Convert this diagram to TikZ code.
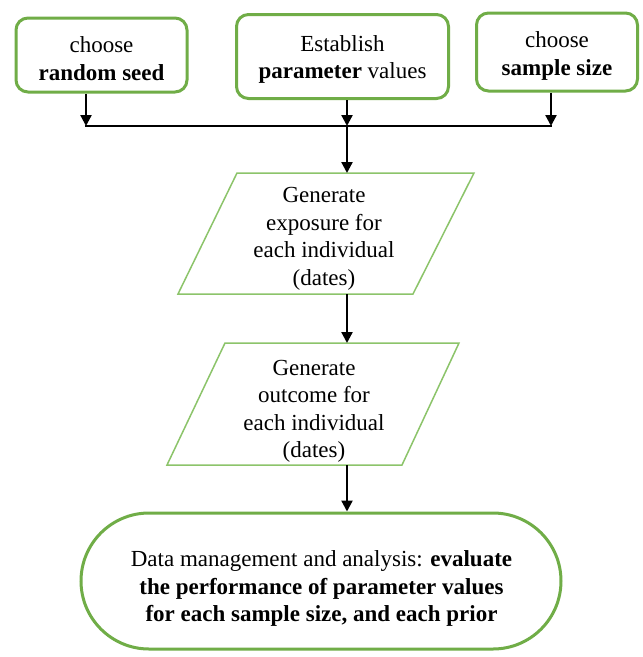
\documentclass[tikz,border=0pt]{standalone}
\usepackage{fontspec}
\setmainfont{Liberation Serif}
\usetikzlibrary{arrows.meta}
\definecolor{gr}{HTML}{70AD47}
\definecolor{lgr}{HTML}{8CC46A}
\begin{document}
\begin{tikzpicture}[x=1pt,y=-1pt,
  txt/.style={align=center, font=\fontsize{23}{27.5}\selectfont, inner sep=0pt},
  topbox/.style={draw=gr, line width=3pt, rounded corners=12pt, inner sep=0pt},
  para/.style={draw=lgr, line width=1.5pt, line join=miter},
  arr/.style={draw=black, line width=2.3pt, -{Triangle[length=11pt,width=11pt]}},
  plain/.style={draw=black, line width=2.3pt}
]
\useasboundingbox (0,0) rectangle (643,657);
\fill[white] (0,0) rectangle (643,657);

% top boxes
\node[topbox, minimum width=171pt, minimum height=74pt] (b1) at (101.5,55) {};
\node[txt] (b1t) at (101.5,58.5) {choose\\\textbf{random seed}};
\node[topbox, minimum width=212pt, minimum height=84pt] (b2) at (342.5,56.5) {};
\node[txt] (b2t) at (342.5,59.5) {Establish\\\textbf{parameter} values};
\node[topbox, minimum width=161pt, minimum height=78pt] (b3) at (557,52) {};
\node[txt] (b3t) at (557,56) {choose\\\textbf{sample size}};

% junction points
\coordinate (h1) at (86,126);
\coordinate (h2) at (347,126);
\coordinate (h3) at (551,126);

% parallelogram 1
\coordinate (p1a) at (237,173);
\coordinate (p1b) at (474,173);
\coordinate (p1c) at (413,294);
\coordinate (p1d) at (178,294);
\draw[para] (p1a) -- (p1b) -- (p1c) -- (p1d) -- cycle;
\node[txt] (p1) at (324,239) {Generate\\exposure for\\each individual\\(dates)};

% parallelogram 2
\coordinate (p2a) at (225,343);
\coordinate (p2b) at (459,343);
\coordinate (p2c) at (402,465);
\coordinate (p2d) at (167,465);
\draw[para] (p2a) -- (p2b) -- (p2c) -- (p2d) -- cycle;
\node[txt] (p2) at (314,411.5) {Generate\\outcome for\\each individual\\(dates)};

% stadium
\node[draw=gr, line width=3pt, rounded corners=68pt, minimum width=480pt, minimum height=136pt, inner sep=0pt] (st) at (321,581) {};
\node[txt] (sttext) at (321.5,588.5) {Data management and analysis: \textbf{evaluate}\\\textbf{the performance of parameter values}\\\textbf{for each sample size, and each prior}};

% connectors
\draw[arr] (b1.south -| h1) -- (h1);
\draw[arr] (b2.south -| h2) -- (h2);
\draw[arr] (b3.south -| h3) -- (h3);
\draw[plain] ([xshift=-1.15pt]h1) -- ([xshift=1.15pt]h3);
\draw[arr] (h2) -- (h2 |- p1a);
\draw[arr] (h2 |- p1c) -- (h2 |- p2a);
\draw[arr] (h2 |- p2c) -- (h2 |- st.north);
\end{tikzpicture}
\end{document}
